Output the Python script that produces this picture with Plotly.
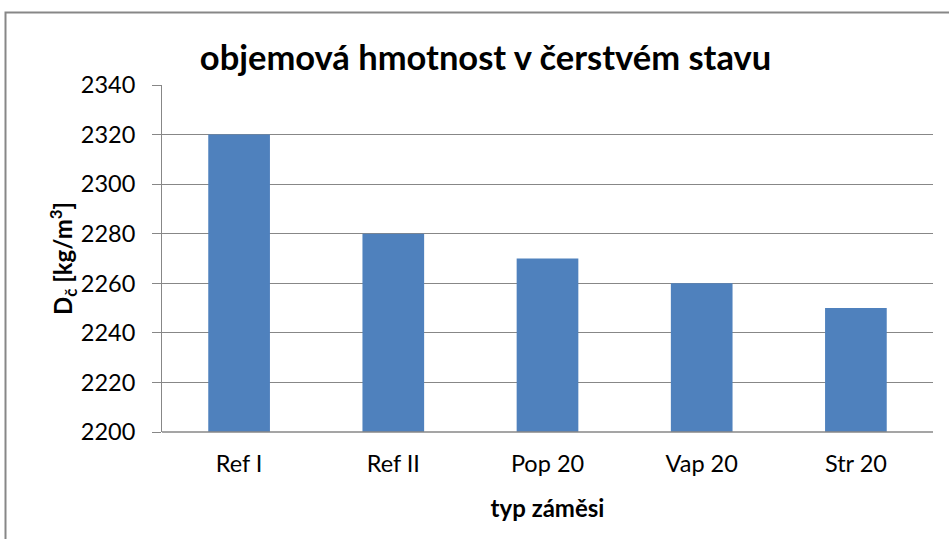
import plotly.graph_objects as go

categories = ["Ref I", "Ref II", "Pop 20", "Vap 20", "Str 20"]
values = [2320, 2280, 2270, 2260, 2250]
y_ticks = [2200, 2220, 2240, 2260, 2280, 2300, 2320, 2340]

W, H = 949, 539
L, R, T, B = 162, 16, 85, 107
pw, ph = W - L - R, H - T - B

def px_to_paper_x(px):
    return (px - L) / pw

def px_to_paper_y(py):
    return (H - B - py) / ph

font = "Lato, 'Open Sans', sans-serif"

fig = go.Figure(go.Bar(
    x=categories, y=values,
    marker=dict(color="#4F81BD", line=dict(width=0)),
))

fig.update_layout(
    width=W, height=H,
    margin=dict(l=L, r=R, t=T, b=B, autoexpand=False),
    paper_bgcolor="white", plot_bgcolor="white",
    bargap=0.6,
    showlegend=False,
    font=dict(family=font, color="black"),
    title=dict(text="<b>objemová hmotnost v čerstvém stavu</b>",
               x=px_to_paper_x(485.5), xref="paper", xanchor="center",
               y=1 - 58 / H, yref="container", yanchor="middle",
               font=dict(size=34.5, family=font, color="black")),
    xaxis=dict(
        showgrid=False, showline=False, ticks="",
        tickfont=dict(size=23.5, family=font),
        ticklabelstandoff=15,
        title=dict(text="<b>typ záměsi</b>", font=dict(size=24, family=font), standoff=24),
    ),
    yaxis=dict(
        range=[2200, 2340], tickvals=y_ticks,
        showgrid=True, gridcolor="#878787", gridwidth=1,
        showline=True, linecolor="#878787", linewidth=1,
        ticks="outside", ticklen=9, tickcolor="#878787",
        tickfont=dict(size=23.5, family=font),
        ticklabelstandoff=12,
        title=dict(text="<b>D<sub>č</sub> [kg/m<sup>3</sup>]</b>", font=dict(size=24, family=font), standoff=0),
        zeroline=False,
    ),
    shapes=[
        dict(type="rect", xref="paper", yref="paper",
             x0=px_to_paper_x(5.5), x1=px_to_paper_x(990),
             y0=px_to_paper_y(600), y1=px_to_paper_y(12.5),
             line=dict(color="#878787", width=2), fillcolor="rgba(0,0,0,0)"),
        dict(type="line", xref="paper", yref="paper",
             x0=0, x1=1, y0=0, y1=0,
             line=dict(color="#878787", width=1.5)),
    ],
)

fig.write_html("out.html", config={"displayModeBar": False},
               post_script="document.body.style.margin='0';")
